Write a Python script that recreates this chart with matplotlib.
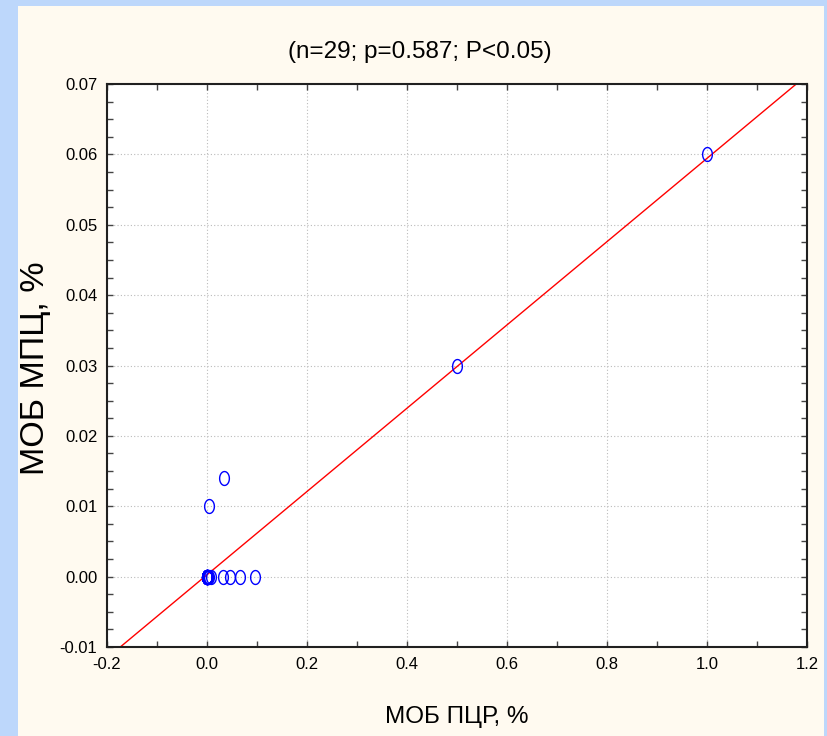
import numpy as np
import matplotlib
matplotlib.use('Agg')
import matplotlib.pyplot as plt
from matplotlib.patches import Rectangle
from matplotlib.path import Path
from matplotlib.ticker import MultipleLocator

# data (many of the 29 points overlap at zero)
mob_pcr = [0.0, 0.0, 0.0, 0.0, 0.0, 0.0, 0.0, 0.0, 0.0, 0.0, 0.0, 0.0,
           0.0, 0.0, 0.0, 0.0, 0.002, 0.005, 0.008, 0.032, 0.047, 0.067,
           0.096, 0.004, 0.034, 0.5, 1.0, 0.0, 0.003]
mob_mpc = [0.0, 0.0, 0.0, 0.0, 0.0, 0.0, 0.0, 0.0, 0.0, 0.0, 0.0, 0.0,
           0.0, 0.0, 0.0, 0.0, 0.0, 0.0, 0.0, 0.0, 0.0, 0.0,
           0.0, 0.010, 0.014, 0.030, 0.060, 0.0, 0.0]

title = '(n=29; p=0.587; P<0.05)'
xlab = 'МОБ ПЦР, %'
ylab = 'МОБ МПЦ, %'

plt.rcParams['font.family'] = ['Liberation Sans', 'DejaVu Sans']

fig = plt.figure(figsize=(8.28, 7.36), dpi=100, facecolor='#bdd7fb')
fig.patches.append(Rectangle((18/828, 0), (824-18)/828, (736-6)/736,
                             transform=fig.transFigure, facecolor='#fffaf0',
                             edgecolor='none', zorder=-5))

ax = fig.add_axes([107/828, 1-647/736, 700/828, 563/736], zorder=2)
ax.set_facecolor('white')

# open ellipse marker (taller than wide)
t = np.linspace(0, 2*np.pi, 60)
ell = Path(np.column_stack([0.35*np.cos(t), 0.5*np.sin(t)]))

ax.plot(mob_pcr, mob_mpc, linestyle='none', marker=ell, markersize=10,
        markerfacecolor='none', markeredgecolor='#0000ff', markeredgewidth=1.0,
        zorder=3)

k, b = np.polyfit(mob_pcr, mob_mpc, 1)
xx = np.array([-0.2, 1.2])
ax.plot(xx, k*xx + b, color='#ff0000', lw=1.0, zorder=2)

ax.set_xlim(-0.2, 1.2)
ax.set_ylim(-0.01, 0.07)
ax.xaxis.set_major_locator(MultipleLocator(0.2))
ax.xaxis.set_minor_locator(MultipleLocator(0.1))
ax.yaxis.set_major_locator(MultipleLocator(0.01))
ax.yaxis.set_minor_locator(MultipleLocator(0.0025))
ax.xaxis.set_major_formatter(plt.FormatStrFormatter('%.1f'))
ax.yaxis.set_major_formatter(plt.FormatStrFormatter('%.2f'))
ax.tick_params(which='both', direction='in', top=True, right=True,
               length=4, width=1, color='#444444', labelsize=12, pad=7)
ax.grid(True, which='major', linestyle=(0, (1, 2)), color='#bbbbbb', lw=0.8)
for s in ax.spines.values():
    s.set_linewidth(1.5)
    s.set_color('#202020')

fig.text(420/828, 1-52/736, title, ha='center', va='center', fontsize=17.5)
fig.text(457/828, 1-717/736, xlab, ha='center', va='center', fontsize=17.5)
fig.text(36/828, 1-368/736, ylab, ha='center', va='center', fontsize=24.5,
         rotation=90)

fig.savefig('out.png', dpi=100, facecolor=fig.get_facecolor())
